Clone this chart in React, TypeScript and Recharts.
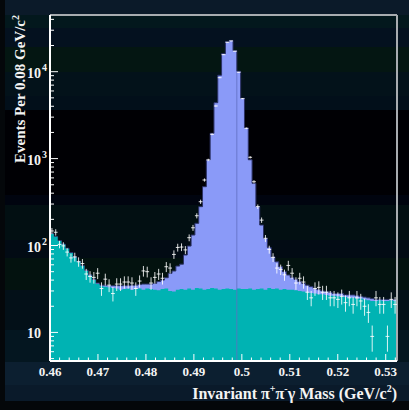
import React from 'react';
import { ComposedChart, Area, Scatter, ErrorBar, XAxis, YAxis, ReferenceLine } from 'recharts';

// binning of the histogram
const BIN_LO = 0.46;
const BIN_W = 0.000795;
const X_MAX = 0.53235;
const Y_MIN = 4.69;
const Y_MAX = 44900;

// data points (events per bin)
const counts = [
  147, 142, 103, 99, 84, 72, 74, 65, 62, 47,
  44, 43, 48, 32, 41, 35, 28, 36, 36, 38,
  38, 37, 32, 39, 51, 50, 37, 43, 47, 42,
  57, 55, 79, 95, 96, 89, 123, 160, 220, 319,
  567, 965, 1905, 4030, 8530, 15700, 21800, 22600, 17200, 9850,
  4900, 2230, 1035, 542, 280, 196, 121, 90, 73, 55,
  53, 46, 59, 48, 37, 42, 38, 29, 25, 32,
  33, 29, 29, 25, 25, 24, 26, 22, 25, 21,
  25, 23, 20, 17, 9, 25, 21, 21, 9, 24,
  21,
];

// background component (teal)
const background = [
  136, 126, 113, 103, 92, 82, 73, 65, 58, 51,
  45, 40, 36, 34, 33.5, 33, 32.5, 32, 31, 31.5,
  32, 31, 31.5, 32, 31, 32, 31.5, 31, 30.5, 31.5,
  32, 30, 29.5, 31, 31.5, 31, 32, 31, 32.5, 32,
  31, 31.5, 32.5, 32, 31, 31.5, 32, 31.5, 31, 32,
  31.5, 31.5, 32, 31, 31.5, 32, 31, 32.5, 31.5, 32,
  31, 31.5, 31, 31, 30.5, 30, 29.5, 29, 28.5, 28,
  27.5, 27.5, 27, 26.5, 26.5, 26, 26, 25.5, 25, 25,
  24.5, 24.5, 24, 23.5, 23, 23, 23.5, 23, 23, 23.5,
  23,
];

// signal + background (blue)
const total = [
  137, 127, 114, 104, 93, 83, 74, 66, 59, 52,
  46, 41, 37, 35, 35, 34.5, 34.5, 34.5, 34.5, 34.5,
  34.5, 35, 35, 35.5, 36, 36, 36, 36.7, 38.5, 40,
  42.6, 47.8, 50.9, 58, 61, 77.8, 98.6, 132, 180, 280,
  475, 965, 1954, 4400, 9100, 16100, 22100, 22900, 17500, 10100,
  4940, 2250, 970, 520, 280, 172, 121, 95, 74, 65,
  57, 50, 45.8, 43, 40.8, 38.5, 36.7, 35, 33.6, 32,
  31, 30, 29.5, 29, 28, 28, 28, 27, 27, 27,
  26.5, 26, 25.5, 25, 24.5, 24, 24, 24, 24, 24,
  24,
];

const xMajor = [0.46, 0.47, 0.48, 0.49, 0.5, 0.51, 0.52, 0.53];
const xLabels = ['0.46', '0.47', '0.48', '0.49', '0.5', '0.51', '0.52', '0.53'];
const yMajor = [10, 100, 1000, 10000];
const yExp = ['', '2', '3', '4'];

const PEAK_EDGE_BIN = 49;

// histogram rows at bin edges (last edge closes the final bin)
const histData = total.map((t, i) => ({ x: BIN_LO + i * BIN_W, total: t, bg: background[i] }));
histData.push({ x: BIN_LO + total.length * BIN_W, total: total[total.length - 1], bg: background[background.length - 1] });

const pointData = counts.map((c, i) => ({
  x: BIN_LO + (i + 0.5) * BIN_W,
  y: c,
  err: Math.sqrt(c),
  xerr: BIN_W / 2,
}));

const xTicks: number[] = [];
for (let k = 0; k <= 36; k++) xTicks.push(+(0.46 + k * 0.002).toFixed(4));
const yTicks: number[] = [];
[1, 10, 100, 1000, 10000].forEach((d) => {
  for (let m = 1; m <= 9; m++) {
    const v = m * d;
    if (v >= Y_MIN && v <= Y_MAX) yTicks.push(v);
  }
});

const FONT = '"Liberation Serif", "Times New Roman", serif';

const XTick = (props: any) => {
  const { x, y, payload } = props;
  const idx = xMajor.findIndex((v) => Math.abs(v - payload.value) < 1e-6);
  const major = idx >= 0;
  return (
    <g>
      <line x1={x} x2={x} y1={y} y2={y - (major ? 7 : 3.5)} stroke="#ffffff" strokeWidth={1} />
      {major && (
        <text x={x} y={y + 15} textAnchor="middle" fill="#f4f4f4" fontFamily={FONT} fontWeight="bold" fontSize={13}>
          {xLabels[idx]}
        </text>
      )}
    </g>
  );
};

const YTick = (props: any) => {
  const { x, y, payload } = props;
  const idx = yMajor.findIndex((v) => Math.abs(v - payload.value) < 1e-6 * v);
  const major = idx >= 0;
  return (
    <g>
      <line x1={x} x2={x + (major ? 8 : 4)} y1={y} y2={y} stroke="#ffffff" strokeWidth={1} />
      {major && (
        <text x={x - 9} y={y + 6} textAnchor="end" fill="#f4f4f4" fontFamily={FONT} fontWeight="bold" fontSize={14}>
          10
        </text>
      )}
      {major && yExp[idx] && (
        <text x={x - 8} y={y - 1} textAnchor="start" fill="#f4f4f4" fontFamily={FONT} fontWeight="bold" fontSize={10}>
          {yExp[idx]}
        </text>
      )}
    </g>
  );
};

const bands: [number, number, string][] = [
  [0, 15, '#0b1a29'],
  [15, 28, '#03181d'],
  [28, 47, '#04111f'],
  [47, 72, '#041612'],
  [72, 96, '#03121a'],
  [96, 110, '#020f1a'],
  [110, 195, '#000004'],
  [195, 205, '#00040f'],
  [205, 240, '#020f12'],
  [240, 258, '#020b14'],
  [258, 290, '#03120f'],
  [290, 330, '#031018'],
  [330, 362, '#041620'],
  [362, 385, '#0c1f30'],
  [385, 401, '#0a1a2a'],
  [401, 410, '#04070a'],
];
const bgGradient =
  'linear-gradient(to bottom, ' + bands.map(([a, b, c]) => `${c} ${a}px, ${c} ${b}px`).join(', ') + ')';

const Dot = () => <g />;

export default function App() {
  const peakX = BIN_LO + PEAK_EDGE_BIN * BIN_W;
  return (
    <div style={{ position: 'absolute', left: 0, top: 0, width: 409, height: 410, background: bgGradient, overflow: 'hidden' }}>
      <div style={{ position: 'absolute', left: 0, top: 0, width: 5, height: 410, background: '#04070a' }} />
      <div style={{ position: 'absolute', left: 0, top: 0 }}>
        <ComposedChart width={409} height={410} data={histData} margin={{ top: 15, right: 12, bottom: 19, left: 8 }}>
          <XAxis
            type="number"
            dataKey="x"
            domain={[BIN_LO, X_MAX]}
            allowDataOverflow
            ticks={xTicks}
            interval={0}
            tickSize={0}
            tickMargin={0}
            tick={<XTick />}
            height={30}
            axisLine={{ stroke: '#ffffff', strokeWidth: 2 }}
            tickLine={false}
          />
          <YAxis
            type="number"
            scale="log"
            domain={[Y_MIN, Y_MAX]}
            allowDataOverflow
            ticks={yTicks}
            interval={0}
            tickSize={0}
            tickMargin={0}
            tick={<YTick />}
            width={42}
            axisLine={{ stroke: '#ffffff', strokeWidth: 2 }}
            tickLine={false}
          />
          <Area
            type="stepAfter"
            dataKey="total"
            baseValue={Y_MIN}
            fill="#8a9af8"
            fillOpacity={1}
            stroke="#2c3266"
            strokeWidth={1}
            isAnimationActive={false}
          />
          <Area
            type="stepAfter"
            dataKey="bg"
            baseValue={Y_MIN}
            fill="#00b3b3"
            fillOpacity={1}
            stroke="#00b3b3"
            strokeWidth={0}
            isAnimationActive={false}
          />
          <ReferenceLine
            segment={[{ x: peakX, y: Y_MIN }, { x: peakX, y: total[PEAK_EDGE_BIN] }]}
            stroke="#5f6fc0"
            strokeOpacity={0.8}
            strokeWidth={1}
          />
          <ReferenceLine y={Y_MAX} stroke="#a8acb0" strokeWidth={2} />
          <ReferenceLine x={X_MAX} stroke="#a8acb0" strokeWidth={2} />
          <Scatter data={pointData} dataKey="y" shape={<Dot />} isAnimationActive={false}>
            <ErrorBar dataKey="err" direction="y" width={0} stroke="#ffffff" strokeOpacity={0.85} strokeWidth={1} isAnimationActive={false} />
            <ErrorBar dataKey="xerr" direction="x" width={0} stroke="#ffffff" strokeOpacity={0.85} strokeWidth={1} isAnimationActive={false} />
          </Scatter>
        </ComposedChart>
      </div>
      <svg width={409} height={410} style={{ position: 'absolute', left: 0, top: 0, pointerEvents: 'none' }}>
        <text
          transform="translate(25,15) rotate(-90)"
          textAnchor="end"
          fill="#f4f4f4"
          fontFamily={FONT}
          fontWeight="bold"
          fontSize={15}
        >
          Events Per 0.08 GeV/c<tspan dy={-6} fontSize={10}>2</tspan>
        </text>
        <text x={397} y={399} textAnchor="end" fill="#f4f4f4" fontFamily={FONT} fontWeight="bold" fontSize={16}>
          Invariant π<tspan dy={-7} fontSize={10}>+</tspan>
          <tspan dy={7}>π</tspan>
          <tspan dy={-7} fontSize={10}>-</tspan>
          <tspan dy={7}>γ Mass (GeV/c</tspan>
          <tspan dy={-7} fontSize={10}>2</tspan>
          <tspan dy={7}>)</tspan>
        </text>
      </svg>
    </div>
  );
}
